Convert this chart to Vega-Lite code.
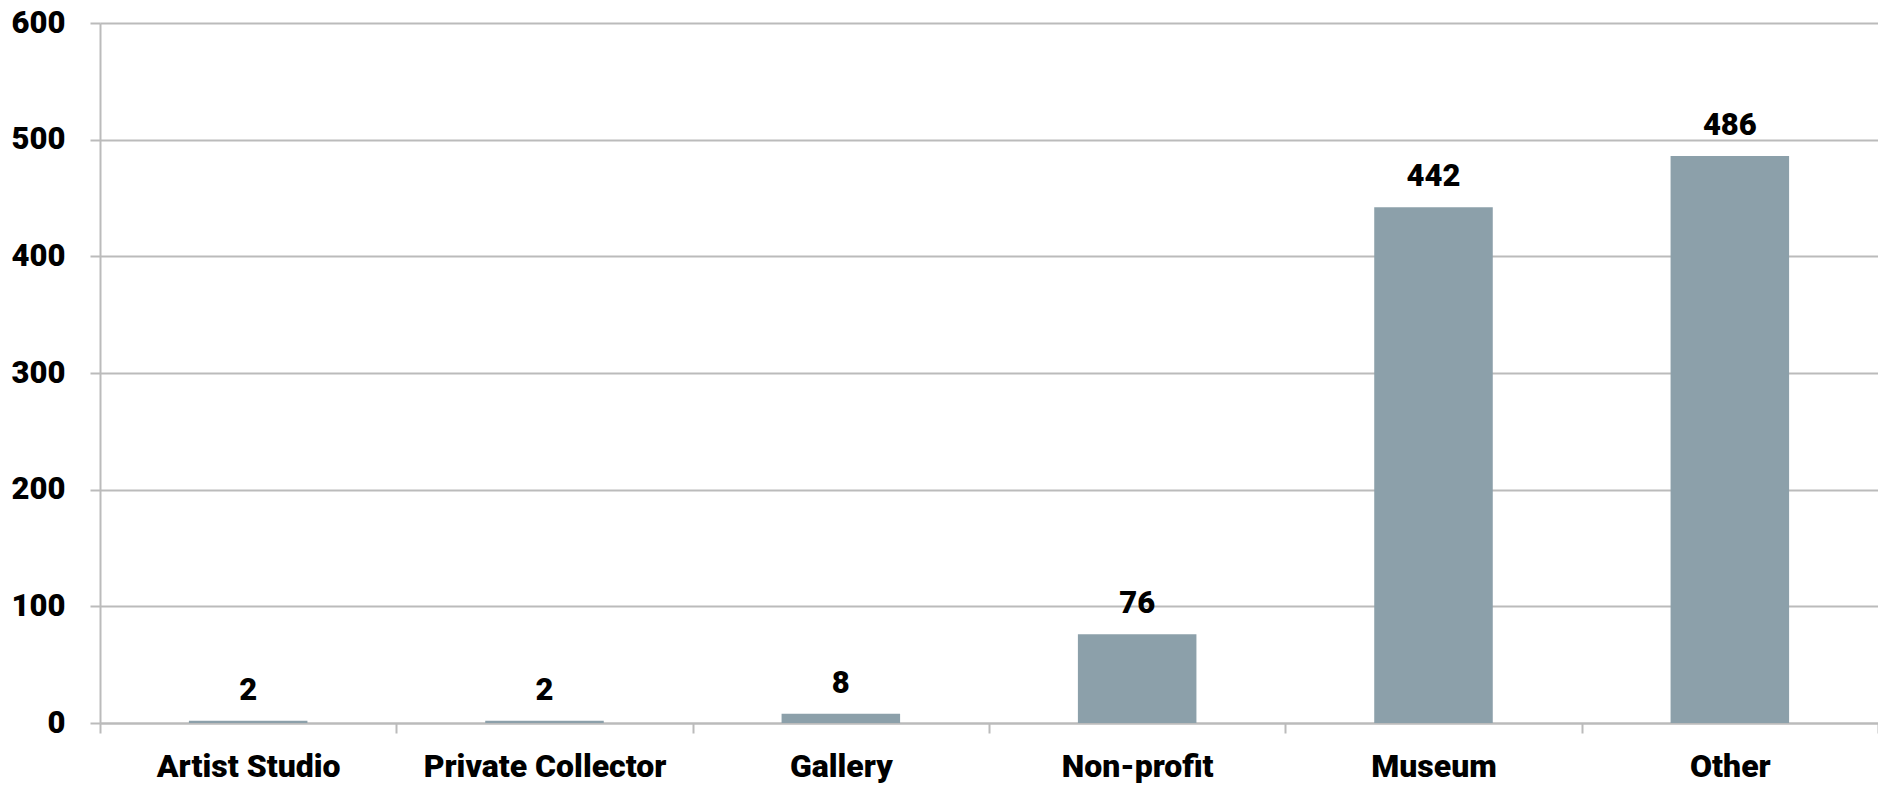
{
  "$schema": "https://vega.github.io/schema/vega-lite/v6.json",
  "width": 1778,
  "height": 700,
  "autosize": {"type": "none"},
  "padding": {"left": 100, "top": 23, "right": 0, "bottom": 64},
  "background": "white",
  "config": {
    "view": {"stroke": null},
    "font": "Roboto"
  },
  "data": {
    "values": [
      {"category": "Artist Studio", "count": 2},
      {"category": "Private Collector", "count": 2},
      {"category": "Gallery", "count": 8},
      {"category": "Non-profit", "count": 76},
      {"category": "Museum", "count": 442},
      {"category": "Other", "count": 486}
    ]
  },
  "encoding": {
    "x": {
      "field": "category",
      "type": "nominal",
      "sort": null,
      "scale": {"paddingInner": 0, "paddingOuter": 0},
      "axis": {
        "title": null,
        "labelAngle": 0,
        "labelLimit": 0,
        "labelFont": "Roboto",
        "labelFontWeight": 900,
        "labelFontSize": 32,
        "labelColor": "#000000",
        "labelPadding": 18,
        "domainColor": "#bbbbbb",
        "domainWidth": 2,
        "tickColor": "#bbbbbb",
        "tickWidth": 2,
        "tickSize": 10,
        "tickBand": "extent",
        "grid": false
      }
    },
    "y": {
      "field": "count",
      "type": "quantitative",
      "scale": {"domain": [0, 600], "nice": false},
      "axis": {
        "title": null,
        "values": [0, 100, 200, 300, 400, 500, 600],
        "labelFont": "Roboto",
        "labelFontWeight": 900,
        "labelFontSize": 31,
        "labelColor": "#000000",
        "labelPadding": 25,
        "domainColor": "#bbbbbb",
        "domainWidth": 2,
        "tickColor": "#bbbbbb",
        "tickWidth": 2,
        "tickSize": 10,
        "grid": true,
        "gridColor": "#bbbbbb",
        "gridWidth": 2
      }
    }
  },
  "layer": [
    {
      "mark": {"type": "bar", "color": "#8ca0aa", "width": {"band": 0.4}}
    },
    {
      "mark": {
        "type": "text",
        "baseline": "bottom",
        "dy": -14,
        "font": "Roboto",
        "fontWeight": 900,
        "fontSize": 31,
        "color": "#000000"
      },
      "encoding": {"text": {"field": "count", "type": "quantitative"}}
    }
  ]
}
